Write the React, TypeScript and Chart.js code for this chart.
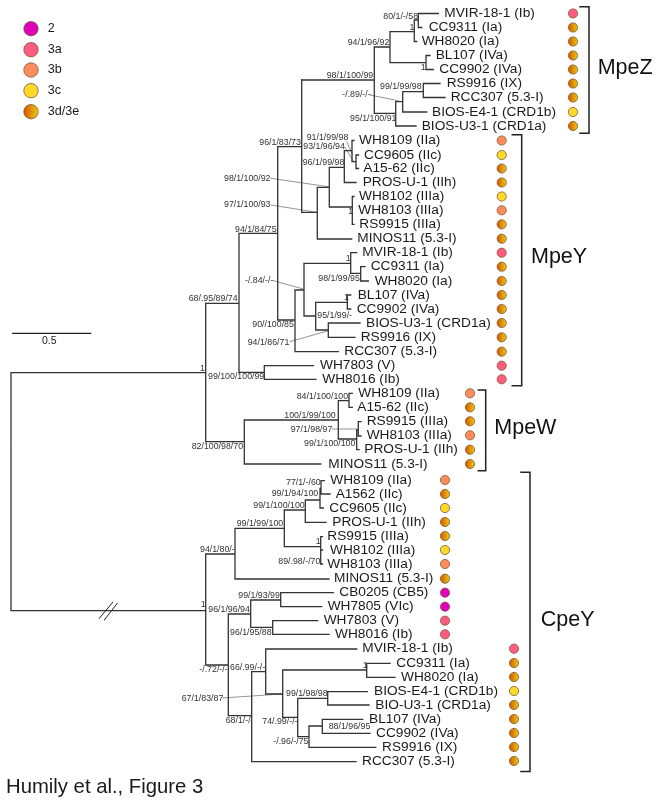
import React, { useEffect, useRef } from "react";
import { Chart, registerables } from "chart.js";

Chart.register(...registerables);

type Seg = number[];
type Pigment = "2" | "3a" | "3b" | "3c" | "3d";

/* ---------- pigment legend ---------- */
const pigmentKeys: Pigment[] = ["2", "3a", "3b", "3c", "3d"];
const pigmentLabels = ["2", "3a", "3b", "3c", "3d/3e"];
const legendRows = [28.7, 49.7, 70, 90.7, 111.7];

/* ---------- MpeZ ---------- */
const mpeZNames = ["MVIR-18-1 (Ib)", "CC9311 (Ia)", "WH8020 (Ia)", "BL107 (IVa)", "CC9902 (IVa)", "RS9916 (IX)", "RCC307 (5.3-I)", "BIOS-E4-1 (CRD1b)", "BIOS-U3-1 (CRD1a)"];
const mpeZRows = [13.5, 27.5, 41.5, 55.5, 69.5, 83.5, 97.5, 112, 126];
const mpeZTextStart = [444.3, 428.7, 421.7, 435.7, 439.3, 446.7, 450.7, 432, 421.7];
const mpeZPigments: Pigment[] = ["3a", "3d", "3d", "3d", "3d", "3d", "3d", "3c", "3d"];
const mpeZH: Seg[] = [[418.3, 438.3, 13.5], [418.3, 421.7, 27.5], [414.3, 418.3, 20], [414.3, 416.7, 41.5], [390, 414.3, 31.7], [426, 430, 55.5], [426, 433.3, 69.5], [390, 426, 62.7], [374.3, 390, 47], [423.3, 440, 83.5], [423.3, 445, 97.5], [402.7, 423.3, 91.7], [402.7, 426.7, 112], [395.7, 402.7, 101.7], [395.7, 416, 126], [374.3, 395.7, 113.3], [301.7, 374.3, 80]];
const mpeZV: Seg[] = [[418.3, 13.5, 27.5], [414.3, 20, 41.5], [390, 31.7, 62.7], [426, 55.5, 69.5], [374.3, 47, 113.3], [423.3, 83.5, 97.5], [402.7, 91.7, 112], [395.7, 101.7, 126]];

/* ---------- MpeY ---------- */
const mpeYNames = ["WH8109 (IIa)", "CC9605 (IIc)", "A15-62 (IIc)", "PROS-U-1 (IIh)", "WH8102 (IIIa)", "WH8103 (IIIa)", "RS9915 (IIIa)", "MINOS11 (5.3-I)", "MVIR-18-1 (Ib)", "CC9311 (Ia)", "WH8020 (Ia)", "BL107 (IVa)", "CC9902 (IVa)", "BIOS-U3-1 (CRD1a)", "RS9916 (IX)", "RCC307 (5.3-I)", "WH7803 (V)", "WH8016 (Ib)"];
const mpeYRows = [140.5, 155, 168.5, 182.5, 196.5, 210.3, 224.3, 238.7, 252.7, 266.7, 281, 295, 309, 323, 337.3, 351.7, 365.7, 379.3];
const mpeYTextStart = [359, 364, 363.3, 362.7, 359, 358.3, 359.3, 357.3, 362.3, 370.7, 374.7, 357.7, 356.7, 366, 360.7, 344.3, 320, 322.3];
const mpeYPigments: Pigment[] = ["3b", "3c", "3d", "3d", "3c", "3b", "3d", "3d", "3a", "3d", "3d", "3d", "3d", "3d", "3d", "3d", "3a", "3a"];
const mpeYH: Seg[] = [[277.7, 301.7, 146.7], [301.7, 317.3, 212.3], [317.3, 351.7, 239], [317.3, 329.3, 187.3], [329.3, 344.3, 167.3], [344.3, 356, 182.5], [344.3, 352, 150.7], [352, 354, 140.5], [352, 356, 161.7], [356, 358.5, 155], [356, 358.5, 168.5], [329.3, 352.3, 207], [352.3, 354, 196.5], [352.3, 354, 224.3], [277.7, 295, 320], [295, 338.3, 351.7], [295, 304, 290], [304, 350.7, 263.3], [350.7, 356.7, 252.7], [350.7, 360.7, 273.3], [360.7, 365, 266.7], [360.7, 368.3, 281], [304, 315.7, 316], [315.7, 347.3, 302.3], [347.3, 350.7, 295], [347.3, 350.7, 309], [315.7, 328.3, 330], [328.3, 360, 323], [328.3, 355, 337.3], [239, 277.7, 233.3], [239, 264.3, 372.3], [264.3, 313.3, 365.7], [264.3, 316, 379.3], [205.7, 239, 303.3]];
const mpeYV: Seg[] = [[301.7, 80, 212.3], [277.7, 146.7, 320], [317.3, 187.3, 239], [329.3, 167.3, 207], [344.3, 150.7, 182.5], [352, 140.5, 161.7], [356, 155, 168.5], [352.3, 196.5, 224.3], [295, 290, 351.7], [304, 263.3, 316], [350.7, 252.7, 273.3], [360.7, 266.7, 281], [315.7, 302.3, 330], [347.3, 295, 309], [328.3, 323, 337.3], [239, 233.3, 372.3], [264.3, 365.7, 379.3]];

/* ---------- MpeW ---------- */
const mpeWNames = ["WH8109 (IIa)", "A15-62 (IIc)", "RS9915 (IIIa)", "WH8103 (IIIa)", "PROS-U-1 (IIh)", "MINOS11 (5.3-I)"];
const mpeWRows = [393.3, 407.3, 421.3, 435.3, 449.7, 464];
const mpeWTextStart = [358.3, 357.3, 366.7, 366.7, 364.3, 328.3];
const mpeWPigments: Pigment[] = ["3b", "3d", "3d", "3b", "3d", "3d"];
const mpeWH: Seg[] = [[205.7, 244.3, 441.7], [244.3, 320.7, 464], [244.3, 338.3, 420], [338.3, 349, 400.7], [349, 352.3, 393.3], [349, 352.3, 407.3], [338.3, 356.7, 439], [356.7, 359, 449.7], [356.7, 358.3, 430], [358.3, 361, 421.7], [358.3, 361, 436]];
const mpeWV: Seg[] = [[244.3, 420, 464], [338.3, 400.7, 439], [349, 393.3, 407.3], [356.7, 430, 449.7], [358.3, 421.7, 436]];

/* ---------- CpeY ---------- */
const cpeYNames = ["WH8109 (IIa)", "A1562 (IIc)", "CC9605 (IIc)", "PROS-U-1 (IIh)", "RS9915 (IIIa)", "WH8102 (IIIa)", "WH8103 (IIIa)", "MINOS11 (5.3-I)", "CB0205 (CB5)", "WH7805 (VIc)", "WH7803 (V)", "WH8016 (Ib)"];
const cpeYRows = [480, 494, 508, 522, 536, 550, 564, 578.7, 592.7, 606.7, 620.7, 634.3];
const cpeYTextStart = [330.3, 335.7, 329.3, 332.3, 327.3, 330, 327.3, 334, 339.3, 327.7, 323.7, 335];
const cpeYPigments: Pigment[] = ["3b", "3d", "3c", "3d", "3d", "3c", "3b", "3d", "2", "2", "3a", "3a"];
const cpeYLowNames = ["MVIR-18-1 (Ib)", "CC9311 (Ia)", "WH8020 (Ia)", "BIOS-E4-1 (CRD1b)", "BIO-U3-1 (CRD1a)", "BL107 (IVa)", "CC9902 (IVa)", "RS9916 (IX)", "RCC307 (5.3-I)"];
const cpeYLowRows = [648.7, 663, 677, 691, 705, 719, 733, 747, 761];
const cpeYLowTextStart = [362.3, 396.3, 401, 374, 375.3, 369, 376, 382, 362];
const cpeYLowPigments: Pigment[] = ["3a", "3d", "3d", "3c", "3d", "3d", "3d", "3d", "3d"];
const cpeYH: Seg[] = [[205.7, 235, 554], [235, 329, 579], [235, 284.3, 528.3], [284.3, 305.3, 510], [305.3, 326, 522.3], [305.3, 320, 500], [320, 323.3, 508], [320, 321, 488.3], [321, 324.3, 480.7], [321, 330, 494], [284.3, 320.7, 546.7], [320.7, 322.5, 536.7], [320.7, 322.5, 550], [320.7, 322.5, 564], [205.7, 228.3, 665], [228.3, 250.7, 614], [250.7, 280.7, 600], [280.7, 333.3, 592.7], [280.7, 321.7, 606.7], [250.7, 272.7, 627.3], [272.7, 317.7, 620.7], [272.7, 329, 634.3], [228.3, 251.7, 715.7], [251.7, 356, 761.7], [251.7, 265.7, 671.7], [265.7, 356.7, 649], [265.7, 282.7, 694], [282.7, 366.7, 670], [366.7, 390, 663.3], [366.7, 395, 677.3], [282.7, 297.7, 717.3], [297.7, 327.7, 698.3], [327.7, 367.3, 691.7], [327.7, 369, 705], [297.7, 309, 736.7], [309, 375.7, 747.3], [309, 322.3, 726], [322.3, 362.7, 719.3], [322.3, 370, 733.3]];
const cpeYV: Seg[] = [[205.7, 554, 665], [235, 528.3, 579], [284.3, 510, 546.7], [305.3, 500, 522.3], [320, 488.3, 508], [321, 480.7, 494], [320.7, 536.7, 564], [228.3, 614, 715.7], [250.7, 600, 627.3], [280.7, 592.7, 606.7], [272.7, 620.7, 634.3], [251.7, 671.7, 761.7], [265.7, 649, 694], [282.7, 670, 717.3], [366.7, 663.3, 677.3], [297.7, 698.3, 736.7], [327.7, 691.7, 705], [309, 726, 747.3], [322.3, 719.3, 733.3]];

/* ---------- root, breaks, scale ---------- */
const rootH: Seg[] = [[11, 205.7, 372.7], [11, 205.7, 610.7]];
const rootV: Seg[] = [[11, 372.7, 610.7], [205.7, 303.3, 441.7]];
const branchBreaks: number[][] = [[99.3, 618.3, 112.7, 602.3], [104.3, 620, 117.3, 603.3]];
const scaleBar: number[] = [12.7, 90.7, 333.3];

/* ---------- clade brackets ---------- */
const cladeNames = ["MpeZ", "MpeY", "MpeW", "CpeY"];
const cladeNameAt: number[][] = [[597.7, 68], [531, 257.3], [494.3, 428.3], [540.7, 620]];
const cladeBrackets: number[][] = [[580, 589, 6.7, 133.3], [512.3, 521.7, 134.7, 385.7], [478.3, 485.7, 390, 470.7], [521, 530, 472.3, 771.5]];

/* ---------- support values ---------- */
const supportTexts = ["80/1/-/58", "1", "94/1/96/92", "1", "98/1/100/99", "99/1/99/98", "-/.89/-/-", "95/1/100/91", "96/1/83/73", "91/1/99/98", "93/1/96/94", "96/1/99/98", "98/1/100/92", "97/1/100/93", "1", "94/1/84/75", "1", "98/1/99/95", "-/.84/-/-", "68/.95/89/74", "1", "95/1/99/-", "90//100/85", "94/1/86/71", "1", "99/100/100/99", "84/1/100/100", "100/1/99/100", "97/1/98/97", "99/1/100/100", "82/100/98/70", "77/1/-/60", "99/1/94/100", "99/1/100/100", "99/1/99/100", "94/1/80/-", "1", "89/.98/-/70", "99/1/93/99", "1", "96/1/96/94", "96/1/95/88", "1", "-/.72/-/-", "66/.99/-/-", "99/1/98/98", "67/1/83/87", "68/1/-/", "88/1/96/95", "74/.99/-/-", "-/.96/-/75"];
const supportX = [383.3, 409.5, 347.7, 420.7, 326.7, 380, 342.3, 350, 259.3, 306.7, 303.3, 302.7, 224, 224, 348.3, 235, 345.7, 318.3, 245, 188.7, 344, 317.3, 252.3, 247.7, 200, 208, 296.7, 284.3, 290.7, 304, 191.7, 286, 271.7, 253.3, 236.7, 200, 315.7, 278.3, 238.3, 200.7, 208.3, 230, 362.7, 199.3, 230, 286, 181.7, 225.7, 328.7, 262.3, 273.3];
const supportY = [16.7, 27.3, 42.7, 67.3, 76, 86.7, 94.7, 118.3, 142.3, 137.7, 146.7, 162.7, 178.3, 205, 211.7, 229.3, 259, 278.3, 280.7, 299, 297.7, 315.7, 325, 342.7, 369, 376.7, 396.7, 416, 430, 443.3, 446.7, 482.7, 493.3, 505.3, 524, 549.3, 542, 561.3, 595.7, 605, 610, 632.7, 666, 670, 667.3, 694, 699, 721, 727, 722, 741.3];
const leaderLines: number[][] = [[370, 95, 398.3, 100.7], [346.7, 141.7, 352.7, 155], [344.7, 147, 353.3, 161], [270.7, 178.3, 328.3, 186.7], [271, 205, 316.7, 212.3], [273.3, 280.7, 303.3, 289], [290, 341.7, 328.3, 330.7], [332.3, 429, 358.3, 429], [222.7, 698, 281.7, 694]];

const scaleText = "0.5";
const caption = "Humily et al., Figure 3";

/* ---------- dot columns ---------- */
const dotColumns = { mpeZ: 573, mpeY: 501.7, mpeW: 470, cpeY: 445, cpeYLow: 514 };
const legendColumn = 31;

const FONT = '"Liberation Sans", Arial, sans-serif';
const LINE = "#333333";
const FLAT: Record<string, string> = { "2": "#e000b8", "3a": "#ff5c80", "3b": "#ff8c5c", "3c": "#ffd92a" };

const elbows = (h: Seg[], v: Seg[]) => {
  const pts: any[] = [];
  h.forEach(([a, b, y]) => pts.push({ x: a, y }, { x: b, y }, { x: NaN, y: NaN }));
  v.forEach(([x, a, b]) => pts.push({ x, y: a }, { x, y: b }, { x: NaN, y: NaN }));
  return pts;
};
const strokes = (list: number[][]) => {
  const pts: any[] = [];
  list.forEach(([a, b, c, d]) => pts.push({ x: a, y: b }, { x: c, y: d }, { x: NaN, y: NaN }));
  return pts;
};
const bracketPts = () => {
  const pts: any[] = [];
  cladeBrackets.forEach(([a, b, t, u]) => pts.push({ x: a, y: t }, { x: b, y: t }, { x: b, y: u }, { x: a, y: u }, { x: NaN, y: NaN }));
  return pts;
};

const lineSet = (label: string, data: any[], color: string, width: number) => ({
  label,
  data,
  showLine: true,
  spanGaps: false,
  borderColor: color,
  borderWidth: width,
  borderCapStyle: "square" as const,
  pointRadius: 0,
  pointHoverRadius: 0,
  order: 2,
});

const dotFill = (key: Pigment) => (ctx: any) => {
  if (key !== "3d") return FLAT[key];
  const raw = ctx.raw;
  if (!raw) return "#e09010";
  const px = ctx.chart.scales.x.getPixelForValue(raw.x);
  if (!Number.isFinite(px)) return "#e09010";
  const g = ctx.chart.ctx.createLinearGradient(px - raw.r, 0, px + raw.r, 0);
  g.addColorStop(0, "#d85400");
  g.addColorStop(1, "#e8cc10");
  return g;
};

const dotSet = (key: Pigment) => {
  const pts: any[] = [];
  const add = (rows: number[], pigs: Pigment[], x: number) =>
    rows.forEach((y, i) => { if (pigs[i] === key) pts.push({ x, y, r: 4.6 }); });
  add(mpeZRows, mpeZPigments, dotColumns.mpeZ);
  add(mpeYRows, mpeYPigments, dotColumns.mpeY);
  add(mpeWRows, mpeWPigments, dotColumns.mpeW);
  add(cpeYRows, cpeYPigments, dotColumns.cpeY);
  add(cpeYLowRows, cpeYLowPigments, dotColumns.cpeYLow);
  pts.push({ x: legendColumn, y: legendRows[pigmentKeys.indexOf(key)], r: 7.2 });
  return {
    label: pigmentLabels[pigmentKeys.indexOf(key)],
    data: pts,
    showLine: false,
    pointRadius: (c: any) => (c.raw ? c.raw.r : 4.6),
    pointHoverRadius: (c: any) => (c.raw ? c.raw.r : 4.6),
    pointBackgroundColor: dotFill(key),
    pointBorderColor: "#7a5a3a",
    pointBorderWidth: 0.8,
    order: 1,
  };
};

const textPlugin = {
  id: "treeText",
  afterDatasetsDraw(chart: any) {
    const { ctx, scales } = chart;
    const px = (v: number) => scales.x.getPixelForValue(v);
    const py = (v: number) => scales.y.getPixelForValue(v);
    ctx.save();
    ctx.textBaseline = "middle";
    ctx.textAlign = "left";

    ctx.fillStyle = "#1a1a1a";
    ctx.font = `13.7px ${FONT}`;
    const leaves: [string[], number[], number[]][] = [
      [mpeZNames, mpeZRows, mpeZTextStart],
      [mpeYNames, mpeYRows, mpeYTextStart],
      [mpeWNames, mpeWRows, mpeWTextStart],
      [cpeYNames, cpeYRows, cpeYTextStart],
      [cpeYLowNames, cpeYLowRows, cpeYLowTextStart],
    ];
    leaves.forEach(([names, rows, xs]) => names.forEach((n, i) => ctx.fillText(n, px(xs[i]), py(rows[i]))));

    ctx.fillStyle = "#333333";
    ctx.font = `8.8px ${FONT}`;
    supportTexts.forEach((t, i) => ctx.fillText(t, px(supportX[i]), py(supportY[i])));

    ctx.fillStyle = "#111111";
    ctx.font = `21.5px ${FONT}`;
    cladeNames.forEach((t, i) => ctx.fillText(t, px(cladeNameAt[i][0]), py(cladeNameAt[i][1])));

    ctx.fillStyle = "#1a1a1a";
    ctx.font = `12.6px ${FONT}`;
    pigmentLabels.forEach((t, i) => ctx.fillText(t, px(47.7), py(legendRows[i])));

    ctx.font = `10.5px ${FONT}`;
    ctx.textAlign = "center";
    ctx.fillText(scaleText, px(49.3), py(341));

    ctx.textAlign = "left";
    ctx.font = `20.3px ${FONT}`;
    ctx.fillText(caption, px(6), py(787));
    ctx.restore();
  },
};

export default function App() {
  const ref = useRef<HTMLCanvasElement | null>(null);
  useEffect(() => {
    if (!ref.current) return;
    const chart = new Chart(ref.current, {
      type: "scatter",
      data: {
        datasets: [
          lineSet("root", elbows(rootH, rootV), LINE, 1.3),
          lineSet("MpeZ", elbows(mpeZH, mpeZV), LINE, 1.3),
          lineSet("MpeY", elbows(mpeYH, mpeYV), LINE, 1.3),
          lineSet("MpeW", elbows(mpeWH, mpeWV), LINE, 1.3),
          lineSet("CpeY", elbows(cpeYH, cpeYV), LINE, 1.3),
          lineSet("leaders", strokes(leaderLines), "#666666", 0.7),
          lineSet("break", strokes(branchBreaks), "#222222", 1),
          lineSet("scale", [{ x: scaleBar[0], y: scaleBar[2] }, { x: scaleBar[1], y: scaleBar[2] }], "#222222", 1.2),
          lineSet("brackets", bracketPts(), "#222222", 1.5),
          ...pigmentKeys.map(dotSet),
        ] as any,
      },
      options: {
        animation: false,
        responsive: false,
        layout: { padding: 0, autoPadding: false },
        events: [],
        plugins: { legend: { display: false }, tooltip: { enabled: false } },
        scales: {
          x: { type: "linear", min: 0, max: 659, display: false },
          y: { type: "linear", min: 0, max: 805, reverse: true, display: false },
        },
      },
      plugins: [textPlugin],
    } as any);
    return () => chart.destroy();
  }, []);
  return (
    <div style={{ position: "absolute", left: 0, top: 0, width: 659, height: 805, background: "#fff" }}>
      <canvas ref={ref} width={659} height={805} style={{ display: "block" }} />
    </div>
  );
}
